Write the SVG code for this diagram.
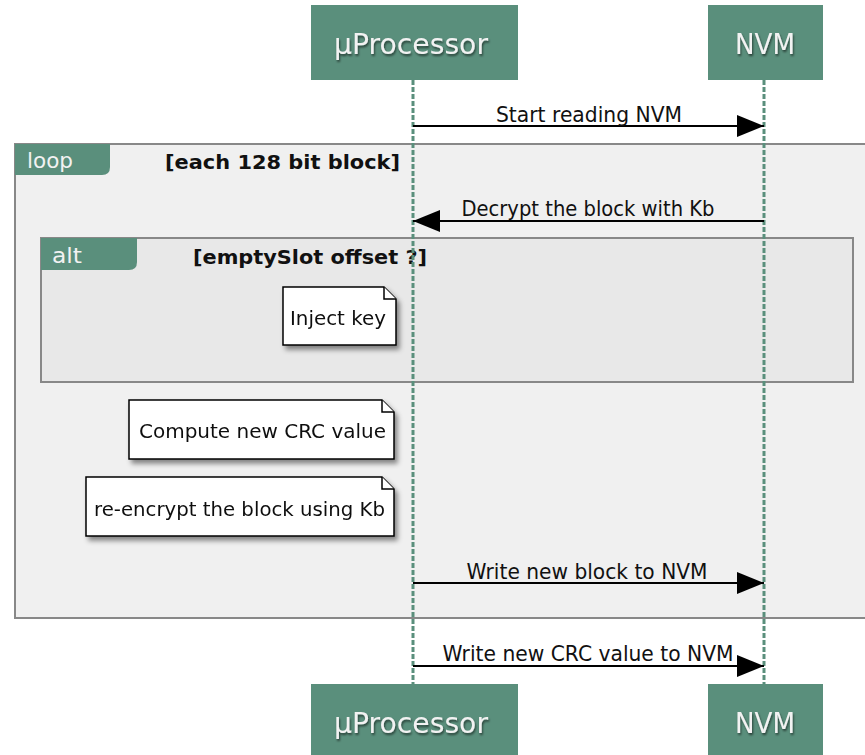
<svg xmlns="http://www.w3.org/2000/svg" width="865" height="755" viewBox="0 0 865 755">
  <style>
    .part { fill: #5a8f7c; }
    .ptext { font-family: "DejaVu Sans", Verdana, sans-serif; font-size: 28px; fill: #f2f2f2; text-anchor: middle; }
    .life { stroke: #5a8f7c; stroke-width: 3; stroke-dasharray: 5 2; fill: none; }
    .msg { stroke: #000; stroke-width: 2; fill: none; }
    .mtext { font-family: "DejaVu Sans", Verdana, sans-serif; font-size: 21px; fill: #111; text-anchor: middle; }
    .frame { stroke: #888; stroke-width: 2; }
    .tab { fill: #5a8f7c; }
    .tabtext { font-family: "DejaVu Sans", Verdana, sans-serif; font-size: 21px; fill: #f2f2f2; }
    .guard { font-family: "DejaVu Sans", Verdana, sans-serif; font-size: 20px; font-weight: bold; fill: #111; }
    .note { fill: #fff; stroke: #000; stroke-width: 1.5; }
    .ntext { font-family: "DejaVu Sans", Verdana, sans-serif; font-size: 20px; fill: #111; }
  </style>
  <defs>
    <marker id="head" markerWidth="27" markerHeight="22" refX="27" refY="11" orient="auto" markerUnits="userSpaceOnUse">
      <path d="M0,0 L27,11 L0,22 Z" fill="#000"/>
    </marker>
    <filter id="shadow" x="-10%" y="-20%" width="130%" height="150%">
      <feDropShadow dx="3" dy="4" stdDeviation="2.5" flood-color="#000" flood-opacity="0.45"/>
    </filter>
    <filter id="tshadow" x="-10%" y="-20%" width="120%" height="150%">
      <feDropShadow dx="1" dy="2" stdDeviation="1.2" flood-color="#000" flood-opacity="0.55"/>
    </filter>
  </defs>

  <!-- combined fragments -->
  <g id="loop">
    <rect class="frame" x="15" y="144" width="870" height="474" fill="#f0f0f0"/>
    <path class="tab" d="M15,144 H110 V167 Q110,175 102,175 H15 Z"/>
    <text class="tabtext" x="27" y="168" textLength="46" lengthAdjust="spacingAndGlyphs">loop</text>
    <text class="guard" x="165" y="169" textLength="235" lengthAdjust="spacingAndGlyphs">[each 128 bit block]</text>
  </g>
  <g id="alt">
    <rect class="frame" x="41" y="238" width="812" height="144" fill="#e8e8e8"/>
    <path class="tab" d="M41,238 H137 V262 Q137,270 129,270 H41 Z"/>
    <text class="tabtext" x="52" y="263" textLength="30" lengthAdjust="spacingAndGlyphs">alt</text>
    <text class="guard" x="193" y="264" textLength="234" lengthAdjust="spacingAndGlyphs">[emptySlot offset ?]</text>
  </g>

  <!-- lifelines -->
  <g id="lifelines">
    <line class="life" x1="413" y1="80" x2="413" y2="684"/>
    <line class="life" x1="764" y1="80" x2="764" y2="684"/>
  </g>

  <!-- participants -->
  <g id="uprocessor-top">
    <rect class="part" x="311" y="5" width="207" height="75"/>
    <text class="ptext" x="411" y="54" textLength="154" lengthAdjust="spacingAndGlyphs" filter="url(#tshadow)">µProcessor</text>
  </g>
  <g id="nvm-top">
    <rect class="part" x="708" y="5" width="115" height="75"/>
    <text class="ptext" x="765" y="54" textLength="60" lengthAdjust="spacingAndGlyphs" filter="url(#tshadow)">NVM</text>
  </g>
  <g id="uprocessor-bottom">
    <rect class="part" x="311" y="684" width="207" height="75"/>
    <text class="ptext" x="411" y="733" textLength="154" lengthAdjust="spacingAndGlyphs" filter="url(#tshadow)">µProcessor</text>
  </g>
  <g id="nvm-bottom">
    <rect class="part" x="708" y="684" width="115" height="75"/>
    <text class="ptext" x="765" y="733" textLength="60" lengthAdjust="spacingAndGlyphs" filter="url(#tshadow)">NVM</text>
  </g>

  <!-- notes -->
  <g id="note-inject" filter="url(#shadow)">
    <path class="note" d="M283,287 H384 L396,299 V345 H283 Z"/>
    <path class="note" d="M384,287 V299 H396" fill="none"/>
    <text class="ntext" x="290" y="325" textLength="96" lengthAdjust="spacingAndGlyphs">Inject key</text>
  </g>
  <g id="note-crc" filter="url(#shadow)">
    <path class="note" d="M129,400 H382 L394,412 V459 H129 Z"/>
    <path class="note" d="M382,400 V412 H394" fill="none"/>
    <text class="ntext" x="139" y="438" textLength="247" lengthAdjust="spacingAndGlyphs">Compute new CRC value</text>
  </g>
  <g id="note-reencrypt" filter="url(#shadow)">
    <path class="note" d="M86,477 H382 L394,489 V536 H86 Z"/>
    <path class="note" d="M382,477 V489 H394" fill="none"/>
    <text class="ntext" x="94" y="516" textLength="291" lengthAdjust="spacingAndGlyphs">re-encrypt the block using Kb</text>
  </g>

  <!-- messages -->
  <g id="connectors">
    <line class="msg" x1="413" y1="126" x2="764" y2="126" marker-end="url(#head)"/>
    <text class="mtext" x="589" y="122" textLength="186" lengthAdjust="spacingAndGlyphs">Start reading NVM</text>

    <line class="msg" x1="764" y1="221" x2="413" y2="221" marker-end="url(#head)"/>
    <text class="mtext" x="588" y="216" textLength="253" lengthAdjust="spacingAndGlyphs">Decrypt the block with Kb</text>

    <line class="msg" x1="413" y1="583" x2="764" y2="583" marker-end="url(#head)"/>
    <text class="mtext" x="587" y="579" textLength="241" lengthAdjust="spacingAndGlyphs">Write new block to NVM</text>

    <line class="msg" x1="413" y1="666" x2="764" y2="666" marker-end="url(#head)"/>
    <text class="mtext" x="588" y="661" textLength="291" lengthAdjust="spacingAndGlyphs">Write new CRC value to NVM</text>
  </g>
</svg>
